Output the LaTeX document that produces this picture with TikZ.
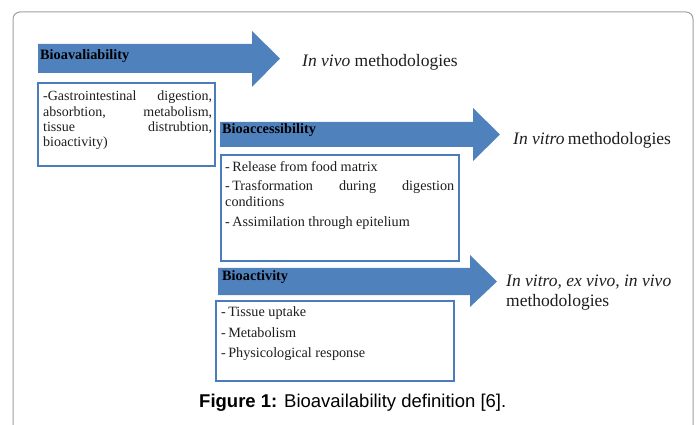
\documentclass[tikz,border=0pt]{standalone}
\usepackage{fontspec}
\setmainfont{Liberation Serif}
\newfontfamily\capfont{Liberation Sans}
\definecolor{arrowblue}{RGB}{79,129,189}
\definecolor{boxblue}{RGB}{74,126,187}
\definecolor{framegray}{RGB}{160,160,160}
\definecolor{txt}{RGB}{30,30,30}
\begin{document}
\begin{tikzpicture}[x=1pt,y=-1pt,
  bigarrow/.style={fill=arrowblue,draw=none},
  infobox/.style={draw=boxblue,line width=2pt,fill=white},
  arrlabel/.style={anchor=west,inner sep=0pt,font=\fontsize{14.3}{16}\selectfont\bfseries,text=black},
  item/.style={anchor=west,inner sep=0pt,font=\fontsize{14.2}{16}\selectfont,text=txt},
  method/.style={anchor=west,inner sep=0pt,font=\fontsize{17.5}{20}\selectfont,text=txt,align=left}]
\useasboundingbox (0,0) rectangle (697,425);
% outer frame
\draw[framegray,line width=1pt,rounded corners=7pt] (13,430) -- (13,12) -- (693,12) -- (693,430);
% arrows
\fill[bigarrow] (38,44) -- (252,44) -- (252,31) -- (280,58.5) -- (252,87) -- (252,73) -- (38,73) -- cycle;
\fill[bigarrow] (220,122) -- (473,122) -- (473,108) -- (500,134.5) -- (473,161) -- (473,147) -- (220,147) -- cycle;
\fill[bigarrow] (218,268) -- (470,268) -- (470,255) -- (497,281.5) -- (470,307) -- (470,295) -- (218,295) -- cycle;
% arrow labels
\node[arrlabel] (l1) at (40,56) {Bioavaliability};
\node[arrlabel] (l2) at (222,130) {Bioaccessibility};
\node[arrlabel] (l3) at (222,277) {Bioactivity};
% boxes
\draw[infobox] (38,83) rectangle (215,166);
\draw[infobox] (221,155) rectangle (459,261);
\draw[infobox] (216,301) rectangle (454,381);
% box 1 text
\node[anchor=north west,inner sep=0pt,text width=169pt,align=left,font=\fontsize{14}{15.2}\selectfont,text=txt] (t1) at (43,91)
 {-Gastrointestinal\hfill digestion,\\ absorbtion,\hfill metabolism,\\ tissue\hfill distrubtion,\\ bioactivity)};
% box 2 text
\node[item] (b2a) at (225,167) {-\,Release from food matrix};
\node[item,anchor=north west,text width=229pt,align=left] (b2b) at (225,180) {-\,Trasformation\hfill during\hfill digestion\\ conditions};
\node[item] (b2c) at (225,223) {-\,Assimilation through epitelium};
% box 3 text
\node[item] (b3a) at (221,313) {-\,Tissue uptake};
\node[item] (b3b) at (221,333) {-\,Metabolism};
\node[item] (b3c) at (221,354) {-\,Physicological response};
% methodologies
\node[method] (m1) at (302,62) {\textit{In vivo} methodologies};
\node[method] (m2) at (513,140) {\textit{In vitro}\kern-1pt\ methodologies};
\node[method,anchor=north west] (m3) at (506,275) {\textit{In vitro, ex vivo, in vivo}\\ methodologies};
% caption
\node[anchor=west,inner sep=0pt,font=\capfont\fontsize{18.5}{20}\selectfont,text=black] (cap) at (199,403) {\textbf{Figure 1:} Bioavailability definition [6].};
\end{tikzpicture}
\end{document}
